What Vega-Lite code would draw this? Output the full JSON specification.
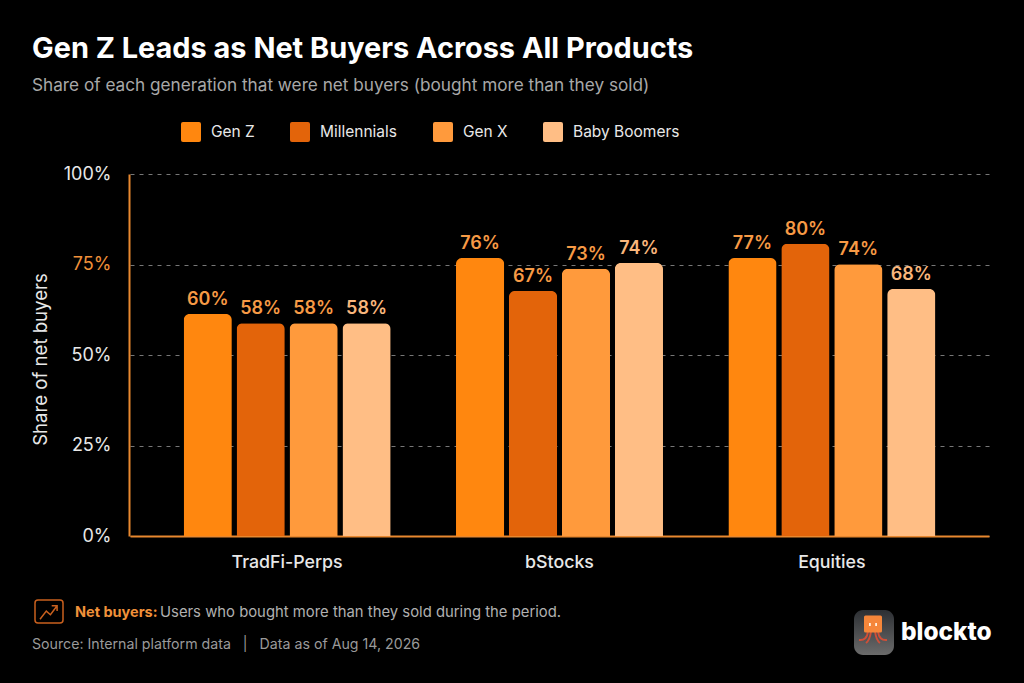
{
  "$schema": "https://vega.github.io/schema/vega-lite/v6.json",
  "width": 860,
  "height": 362,
  "autosize": "none",
  "padding": {"left": 129, "top": 174, "right": 35, "bottom": 147},
  "background": "#000000",
  "config": {"view": {"stroke": null}, "font": "Inter"},
  "title": {
    "text": "Gen Z Leads as Net Buyers Across All Products",
    "subtitle": "Share of each generation that were net buyers (bought more than they sold)",
    "anchor": "start",
    "frame": "group",
    "dx": -97,
    "offset": 28,
    "color": "#ffffff",
    "fontSize": 28.9,
    "fontWeight": 700,
    "subtitleColor": "#a8a8a8",
    "subtitleFontSize": 17.2,
    "subtitlePadding": 13
  },
  "data": {
    "values": [
      {"product": "TradFi-Perps", "generation": "Gen Z", "share": 61.3, "label": "60%"},
      {"product": "TradFi-Perps", "generation": "Millennials", "share": 58.8, "label": "58%"},
      {"product": "TradFi-Perps", "generation": "Gen X", "share": 58.8, "label": "58%"},
      {"product": "TradFi-Perps", "generation": "Baby Boomers", "share": 58.8, "label": "58%"},
      {"product": "bStocks", "generation": "Gen Z", "share": 76.8, "label": "76%"},
      {"product": "bStocks", "generation": "Millennials", "share": 67.7, "label": "67%"},
      {"product": "bStocks", "generation": "Gen X", "share": 73.8, "label": "73%"},
      {"product": "bStocks", "generation": "Baby Boomers", "share": 75.4, "label": "74%"},
      {"product": "Equities", "generation": "Gen Z", "share": 76.8, "label": "77%"},
      {"product": "Equities", "generation": "Millennials", "share": 80.7, "label": "80%"},
      {"product": "Equities", "generation": "Gen X", "share": 75.1, "label": "74%"},
      {"product": "Equities", "generation": "Baby Boomers", "share": 68.2, "label": "68%"}
    ]
  },
  "encoding": {
    "x": {
      "field": "product",
      "type": "nominal",
      "sort": ["TradFi-Perps", "bStocks", "Equities"],
      "scale": {"paddingInner": 0.24, "paddingOuter": 0.197, "range": [1, 860]},
      "axis": {
        "title": null,
        "labelAngle": 0,
        "labelColor": "#e8e8e8",
        "labelFontSize": 17.8,
        "labelFontWeight": 500,
        "labelPadding": 17,
        "ticks": false,
        "domainColor": "#e8882f",
        "domainWidth": 2
      }
    },
    "xOffset": {
      "field": "generation",
      "type": "nominal",
      "sort": ["Gen Z", "Millennials", "Gen X", "Baby Boomers"],
      "scale": {"paddingInner": 0.09, "paddingOuter": 0}
    },
    "y": {
      "field": "share",
      "type": "quantitative",
      "scale": {"domain": [0, 100]},
      "axis": {
        "title": "Share of net buyers",
        "titleColor": "#e8e8e8",
        "titleFontSize": 18.6,
        "titleFontWeight": 400,
        "titlePadding": 13,
        "titleY": 185,
        "values": [0, 25, 50, 75, 100],
        "labelExpr": "datum.value + '%'",
        "labelColor": {"expr": "datum.value == 75 ? '#f0913a' : '#e8e8e8'"},
        "labelFontSize": 18,
        "labelPadding": 18,
        "ticks": false,
        "domainColor": "#e8882f",
        "domainWidth": 2,
        "grid": true,
        "gridColor": "#777777",
        "gridDash": [4, 5],
        "gridWidth": 1
      }
    }
  },
  "layer": [
    {
      "mark": {"type": "bar", "cornerRadiusTopLeft": 6, "cornerRadiusTopRight": 6},
      "encoding": {
        "color": {
          "field": "generation",
          "type": "nominal",
          "scale": {
            "domain": ["Gen Z", "Millennials", "Gen X", "Baby Boomers"],
            "range": ["#ff870f", "#e3640a", "#ff9a3c", "#ffbe85"]
          },
          "legend": {
            "title": null,
            "orient": "none",
            "legendX": 52,
            "legendY": -52,
            "direction": "horizontal",
            "symbolType": "M-.8 -1 H.8 Q1 -1 1 -.8 V.8 Q1 1 .8 1 H-.8 Q-1 1 -1 .8 V-.8 Q-1 -1 -.8 -1 Z",
            "symbolSize": 400,
            "symbolStrokeWidth": 0,
            "symbolOpacity": 1,
            "labelColor": "#e8e8e8",
            "labelFontSize": 15.5,
            "labelOffset": 10,
            "labelLimit": 200,
            "columnPadding": 35
          }
        }
      }
    },
    {
      "mark": {"type": "text", "baseline": "bottom", "dy": -5, "fontSize": 18, "fontWeight": 600},
      "encoding": {
        "text": {"field": "label"},
        "color": {
          "condition": {"test": "datum.generation === 'Baby Boomers'", "value": "#f9b67c"},
          "value": "#f79a45"
        }
      }
    },
    {
      "data": {"values": [{"note": "Net buyers:"}]},
      "mark": {"type": "text", "x": -54, "y": 439, "align": "left", "baseline": "middle", "fontSize": 14.5, "fontWeight": 700, "color": "#f0913a"},
      "encoding": {"x": null, "xOffset": null, "y": null, "text": {"field": "note"}}
    },
    {
      "data": {"values": [{"note": "Users who bought more than they sold during the period."}]},
      "mark": {"type": "text", "x": 31, "y": 439, "align": "left", "baseline": "middle", "fontSize": 14.85, "color": "#b0b0b0"},
      "encoding": {"x": null, "xOffset": null, "y": null, "text": {"field": "note"}}
    },
    {
      "data": {"values": [{"note": "Source: Internal platform data\u00a0\u00a0\u00a0|\u00a0\u00a0\u00a0Data as of Aug 14, 2026"}]},
      "mark": {"type": "text", "x": -97, "y": 471, "align": "left", "baseline": "middle", "fontSize": 14.2, "color": "#9a9a9a"},
      "encoding": {"x": null, "xOffset": null, "y": null, "text": {"field": "note"}}
    },
    {
      "data": {"values": [{"note": "icon"}]},
      "mark": {"type": "rect", "x": -94, "x2": -66, "y": 426, "y2": 449, "cornerRadius": 3, "fill": "#000000", "stroke": "#c9601e", "strokeWidth": 1.5},
      "encoding": {"x": null, "xOffset": null, "y": null}
    },
    {
      "data": {"values": [{"note": "icon arrow"}]},
      "mark": {"type": "point", "x": -80, "y": 438, "size": 1296, "filled": false, "stroke": "#c9601e", "strokeWidth": 1.5, "opacity": 1, "shape": "M-.5 .4 L-.15 -.05 L.08 .15 L.45 -.35 M.15 -.35 L.45 -.35 L.45 -.05"},
      "encoding": {"x": null, "xOffset": null, "y": null}
    },
    {
      "data": {"values": [{"note": "logo tile"}]},
      "mark": {
        "type": "rect", "x": 725, "x2": 765, "y": 436, "y2": 481, "cornerRadius": 9,
        "fill": {"gradient": "linear", "x1": 0, "y1": 0, "x2": 0, "y2": 1, "stops": [{"offset": 0, "color": "#2c2f33"}, {"offset": 1, "color": "#6b6b6b"}]}
      },
      "encoding": {"x": null, "xOffset": null, "y": null}
    },
    {
      "data": {"values": [{"note": "logo legs"}]},
      "mark": {"type": "point", "x": 744, "y": 463, "size": 400, "filled": false, "stroke": "#cf4f38", "strokeWidth": 2, "opacity": 1, "shape": "M-.5 -.6 Q-.6 .4 -1.4 .3 M-.2 -.6 Q-.3 .3 -.7 .6 M.2 -.6 Q.3 .3 .7 .6 M.5 -.6 Q.6 .4 1.4 .3"},
      "encoding": {"x": null, "xOffset": null, "y": null}
    },
    {
      "data": {"values": [{"note": "logo body"}]},
      "mark": {"type": "point", "x": 744, "y": 450, "size": 400, "filled": true, "fill": "#f5863a", "opacity": 1, "strokeWidth": 0, "shape": "M-.75 -.85 H.75 Q.9 -.85 .9 -.7 V.7 Q.9 .85 .75 .85 H-.75 Q-.9 .85 -.9 .7 V-.7 Q-.9 -.85 -.75 -.85 Z"},
      "encoding": {"x": null, "xOffset": null, "y": null}
    },
    {
      "data": {"values": [{"note": "logo eyes"}]},
      "mark": {"type": "point", "x": 744, "y": 450, "size": 400, "filled": true, "fill": "#fff1e0", "opacity": 1, "strokeWidth": 0, "shape": "M-.4 -.1 h.18 v.3 h-.18 z M.22 -.1 h.18 v.3 h-.18 z"},
      "encoding": {"x": null, "xOffset": null, "y": null}
    },
    {
      "data": {"values": [{"note": "blockto"}]},
      "mark": {"type": "text", "x": 772, "y": 459, "align": "left", "baseline": "middle", "fontSize": 24.4, "fontWeight": 800, "color": "#ffffff"},
      "encoding": {"x": null, "xOffset": null, "y": null, "text": {"field": "note"}}
    }
  ]
}
